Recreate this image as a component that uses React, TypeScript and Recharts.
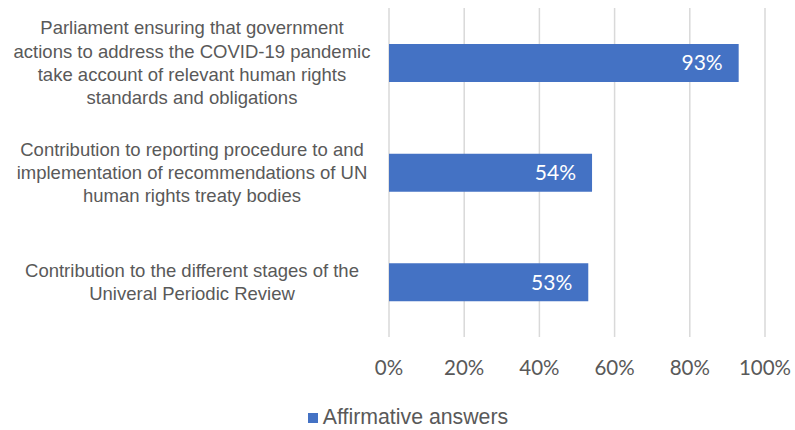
import { Bar, BarChart, CartesianGrid, LabelList, Legend, XAxis, YAxis } from "recharts";

const CATEGORIES = [
  "Parliament ensuring that government actions to address the COVID-19 pandemic take account of relevant human rights standards and obligations",
  "Contribution to reporting procedure to and implementation of recommendations of UN human rights treaty bodies",
  "Contribution to the different stages of the Univeral Periodic Review",
];

// wrapped lines as shown in the original
const CATEGORY_LINES = [
  [
    "Parliament ensuring that government",
    "actions to address the COVID-19 pandemic",
    "take account of relevant human rights",
    "standards and obligations",
  ],
  [
    "Contribution to reporting procedure to and",
    "implementation of recommendations of UN",
    "human rights treaty bodies",
  ],
  ["Contribution to the different stages of the", "Univeral Periodic Review"],
];

const AFFIRMATIVE = [0.93, 0.54, 0.53];
const TICKS = [0, 0.2, 0.4, 0.6, 0.8, 1];
const SERIES_NAME = "Affirmative answers";

const BLUE = "#4472C4";
const GREY_TEXT = "#595959";

const data = CATEGORIES.map((c, i) => ({
  category: c,
  value: AFFIRMATIVE[i],
}));

const pct = (v: number) => `${Math.round(v * 100)}%`;

function CategoryTick({ y, payload }: any) {
  const idx = CATEGORIES.indexOf(payload.value);
  const lines = CATEGORY_LINES[idx] || [payload.value];
  const lh = 23.3;
  const start = y - ((lines.length - 1) * lh) / 2;
  return (
    <text
      x={192}
      y={start}
      textAnchor="middle"
      fill={GREY_TEXT}
      fontFamily="'Liberation Sans', Arial, sans-serif"
      fontSize={18.5}
    >
      {lines.map((l: string, i: number) => (
        <tspan key={i} x={192} y={start + i * lh} dominantBaseline="central">
          {l}
        </tspan>
      ))}
    </text>
  );
}

function PctTick({ x, y, payload }: any) {
  return (
    <text
      x={x}
      y={y + 22}
      textAnchor="middle"
      dominantBaseline="central"
      fill={GREY_TEXT}
      fontFamily="Lato, 'Open Sans', sans-serif"
      fontSize={20.5}
    >
      {pct(payload.value)}
    </text>
  );
}

function LegendBox() {
  return (
    <div
      style={{
        height: 43,
        display: "flex",
        justifyContent: "center",
        alignItems: "center",
        paddingTop: 18,
        paddingLeft: 51,
        boxSizing: "border-box",
        fontFamily: "'Liberation Sans', Arial, sans-serif",
        fontSize: 21.3,
        color: GREY_TEXT,
      }}
    >
      <span
        style={{
          display: "inline-block",
          width: 10,
          height: 10,
          background: BLUE,
          marginRight: 5,
        }}
      />
      {SERIES_NAME}
    </div>
  );
}

export default function App() {
  return (
    <div style={{ position: "absolute", left: 0, top: 0, background: "#fff" }}>
      <BarChart
        width={795}
        height={430}
        data={data}
        layout="vertical"
        margin={{ top: 8, right: 30, left: 0, bottom: 0 }}
        barSize={38}
      >
        <CartesianGrid horizontal={false} stroke="#D9D9D9" strokeWidth={1.5} />
        <XAxis
          type="number"
          domain={[0, 1]}
          ticks={TICKS}
          axisLine={false}
          tickLine={false}
          height={50}
          tick={<PctTick />}
          interval={0}
        />
        <YAxis
          type="category"
          dataKey="category"
          width={389}
          axisLine={false}
          tickLine={false}
          tick={<CategoryTick />}
          interval={0}
        />
        <Legend verticalAlign="bottom" content={<LegendBox />} />
        <Bar dataKey="value" name={SERIES_NAME} fill={BLUE} isAnimationActive={false}>
          <LabelList
            dataKey="value"
            position="insideRight"
            offset={16}
            formatter={(v: any) => pct(Number(v))}
            fill="#FFFFFF"
            fontFamily="Lato, 'Open Sans', sans-serif"
            fontSize={21}
          />
        </Bar>
      </BarChart>
    </div>
  );
}
